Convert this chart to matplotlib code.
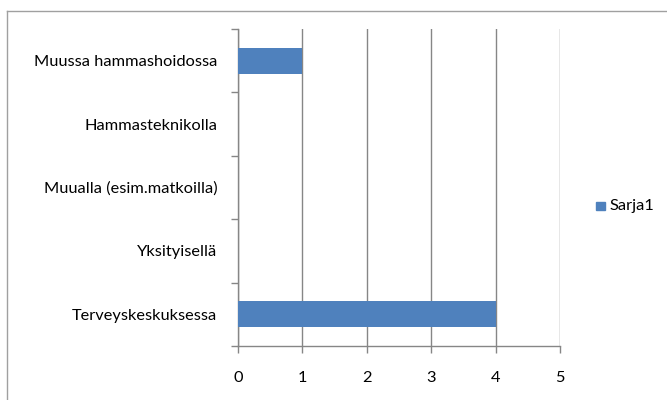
import matplotlib
matplotlib.use("Agg")
import matplotlib.pyplot as plt
from matplotlib.patches import Rectangle
from matplotlib.lines import Line2D

categories = ["Terveyskeskuksessa", "Yksityisellä", "Muualla (esim.matkoilla)",
              "Hammasteknikolla", "Muussa hammashoidossa"]
values = [4, 0, 0, 0, 1]
series_name = "Sarja1"
x_ticks = [0, 1, 2, 3, 4, 5]

plt.rcParams["font.family"] = ["Lato", "DejaVu Sans"]

bar_color = "#4F81BD"
grid_color = "#868686"
fs = 11.8

fig = plt.figure(figsize=(6.67, 4.0), dpi=100)
ax = fig.add_axes([238 / 667, 1 - 346 / 400, (560 - 238) / 667, (346 - 29) / 400])

ypos = range(len(categories))
ax.barh(ypos, values, height=0.41, color=bar_color, zorder=3)

ax.set_xlim(0, 5)
ax.set_ylim(-0.5, len(categories) - 0.5)
ax.set_xticks(x_ticks)
ax.set_xticklabels([str(t) for t in x_ticks])
ax.set_yticks(list(ypos))
ax.set_yticklabels(categories)
ax.set_yticks([i - 0.5 for i in range(len(categories) + 1)], minor=True)

ax.xaxis.grid(True, color=grid_color, linewidth=1.0, zorder=0)
for side in ["top", "right"]:
    ax.spines[side].set_visible(False)
for side in ["left", "bottom"]:
    ax.spines[side].set_color(grid_color)
    ax.spines[side].set_linewidth(1.0)

ax.tick_params(axis="y", which="major", length=0, pad=15, labelsize=fs, labelcolor="black")
ax.tick_params(axis="y", which="minor", length=5, color=grid_color, width=1.0)
ax.tick_params(axis="x", which="major", length=5, color=grid_color, width=1.0,
               pad=13, labelsize=fs, labelcolor="black")

# chart frame
fig.add_artist(Line2D([7 / 667, 7 / 667], [0, 1 - 11 / 400], transform=fig.transFigure,
                      color="#a0a0a0", linewidth=1.0))
fig.add_artist(Line2D([7 / 667, 1], [1 - 11 / 400, 1 - 11 / 400], transform=fig.transFigure,
                      color="#a0a0a0", linewidth=1.0))

# legend
fig.add_artist(Rectangle((596 / 667, 1 - 210 / 400), 9 / 667, 8 / 400,
                         transform=fig.transFigure, color=bar_color))
fig.text(609 / 667, 1 - 206 / 400, series_name, fontsize=fs, va="center", ha="left")

fig.savefig("out.png", dpi=100, facecolor="white")
